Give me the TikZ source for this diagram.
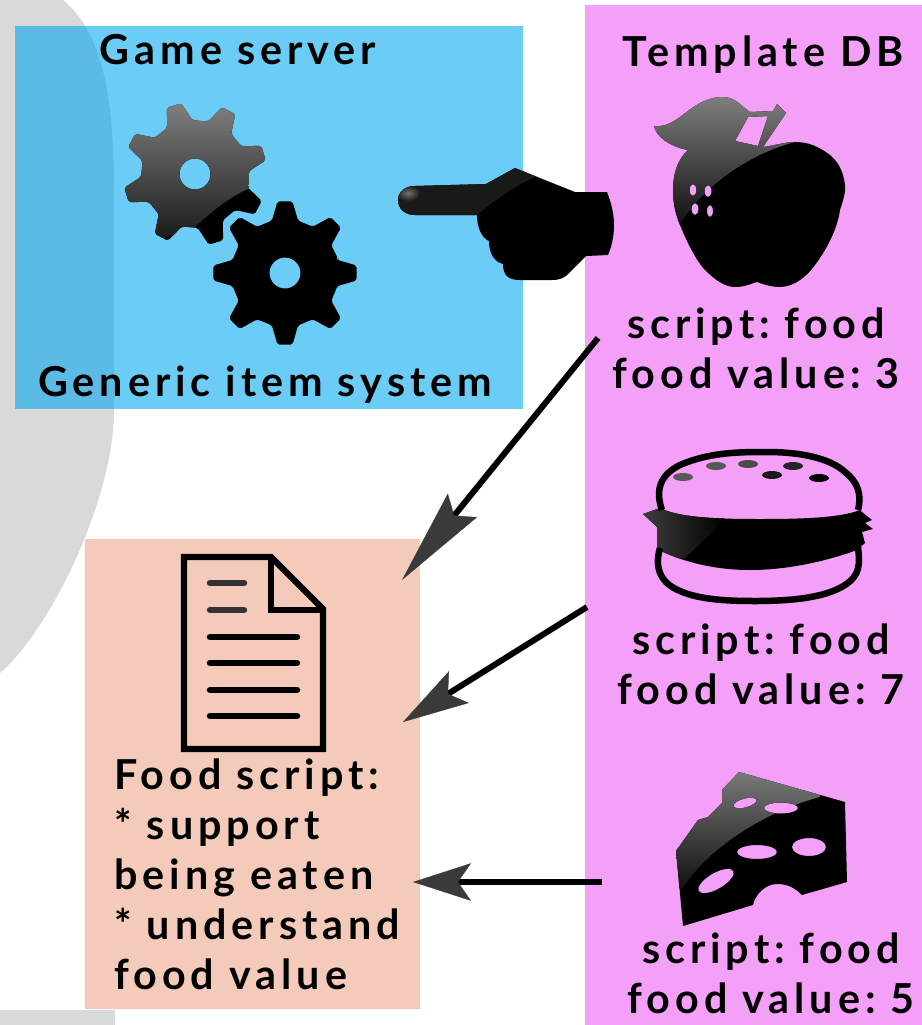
\documentclass[tikz,border=0pt]{standalone}
\usepackage{fontspec}
\setmainfont[LetterSpace=12]{Lato}
\usetikzlibrary{arrows.meta}
\definecolor{serverblue}{HTML}{00A7EE}
\definecolor{dbpink}{HTML}{F5A0F8}
\definecolor{scriptpeach}{HTML}{F4CBBB}
\definecolor{backgray}{HTML}{D9D9D9}
\definecolor{tipgray}{HTML}{3A3A3A}
\def\cogpath#1{(#1-15:55) \foreach \a in {0,45,...,315} {
  -- ({\a+#1-14}:54) -- ({\a+#1-6}:72) -- ({\a+#1+6}:72) -- ({\a+#1+14}:54) } -- cycle (0,0) circle (15.5)}
\def\handpath{(415,186) -- (486,184) -- (515,168) -- (575,192) -- (607,192)
  .. controls (612,205) and (614,215) .. (614,225) .. controls (614,238) and (611,248) .. (608,255)
  -- (586,256) -- (570,272) .. controls (565,278) and (560,280) .. (552,280) -- (520,280)
  .. controls (508,280) and (503,275) .. (503,264) -- (498,262) .. controls (492,258) and (489,250) .. (489,241)
  .. controls (482,238) and (477,228) .. (477,215) -- (415,215)
  .. controls (405,215) and (398,209) .. (398,200) .. controls (398,192) and (405,186) .. (415,186) -- cycle}
\def\applepath{(688,150) .. controls (677,160) and (673,175) .. (673,190)
  .. controls (673,205) and (676,215) .. (680,225) .. controls (688,245) and (698,263) .. (705,270)
  .. controls (715,280) and (725,287) .. (735,287) .. controls (745,287) and (750,284) .. (757,282)
  .. controls (765,285) and (772,287) .. (780,287) .. controls (795,287) and (808,275) .. (815,265)
  .. controls (830,245) and (838,225) .. (840,210) .. controls (844,198) and (846,190) .. (845,185)
  .. controls (843,170) and (838,162) .. (830,155) .. controls (818,146) and (808,142) .. (795,142)
  .. controls (785,142) and (772,146) .. (763,147) -- (786,113) -- (777,104) -- (773,111) -- (750,112)
  .. controls (743,108) and (736,97) .. (723,97) .. controls (703,97) and (690,110) .. (680,117)
  .. controls (672,123) and (664,127) .. (654,126) .. controls (656,136) and (668,146) .. (688,150) -- cycle
  (748,117) -- (768,116) -- (758,146) -- (735,141) -- cycle
  (693,190) ellipse [x radius=3.5,y radius=6] (708,191) ellipse [x radius=3.5,y radius=6]
  (695,209) ellipse [x radius=3.5,y radius=6] (710,211) ellipse [x radius=3,y radius=6]}
\def\pattypath{(643,514) -- (660,508) .. controls (680,518) and (720,519) .. (760,519)
  .. controls (800,519) and (840,518) .. (860,510) -- (862,512) -- (872,520) -- (865,523) -- (873,529) -- (862,532)
  -- (865,543) -- (857,550)
  .. controls (830,560) and (790,570) .. (750,570) .. controls (715,570) and (685,562) .. (663,552)
  -- (657,547) -- (657,527) -- cycle}
\def\cheesepath{(739,772) -- (845,802) -- (847,882) -- (802,895) .. controls (795,888) and (788,884) .. (777,884)
  .. controls (765,884) and (755,895) .. (753,905) -- (683,926) -- (676,851) -- (698,820) -- (708,817)
  -- (722,803) -- (722,790) -- cycle
  (745,803) ellipse [x radius=12,y radius=4.5,rotate=15]
  (781,808) ellipse [x radius=17,y radius=5.5]
  (757,852) ellipse [x radius=20,y radius=7]
  (809,847) ellipse [x radius=17,y radius=9]
  (716,881) ellipse [x radius=20,y radius=8,rotate=30]}
\begin{document}
\begin{tikzpicture}[x=0.02cm,y=-0.02cm,
    glossy/.style={top color=black!50!white,middle color=black!86!white,bottom color=black!94!white},
    itemtext/.style={font=\frenchspacing\bfseries\fontsize{23.5}{28.5}\selectfont,inner sep=0pt,align=center},
    feeding/.style={draw=black,line width=0.12cm,
      -{Stealth[length=#1,width=0.75cm,inset=0.26cm,fill=tipgray,color=tipgray,line width=0.2pt]}},
    docline/.style={line width=0.13cm,line cap=round}]
  \useasboundingbox (0,0) rectangle (922,1025);
  \fill[backgray] (0,0) -- (63,0) .. controls (100,30) and (114,90) .. (114,190) -- (114,410)
    .. controls (114,500) and (50,630) .. (0,673) -- cycle;
  \fill[backgray] (0,1010) rectangle (115,1025);
  \fill[serverblue,fill opacity=0.58] (15,26) rectangle (523,409);
  \fill[dbpink] (585,5) rectangle (922,1025);
  \fill[scriptpeach] (85,539) rectangle (420,1009);

  \node[itemtext,anchor=base] (gameserver) at (238,64) {Game server};
  \node[itemtext,anchor=base] (itemsystem) at (265,396) {Generic item system};
  \node[itemtext,anchor=base] (templatedb) at (763,66) {Template DB};
  \node[itemtext,anchor=center] (applescript) at (756,348) {script: food\\food value: 3};
  \node[itemtext,anchor=center] (burgerscript) at (761,664) {script: food\\food value: 7};
  \node[itemtext,anchor=center] (cheesescript) at (771,973) {script: food\\food value: 5};
  \node[itemtext,align=left,anchor=north west] (foodscript) at (114,758)
    {Food script:\\* support\\being eaten\\* understand\\food value};

  % gears
  \begin{scope}[shift={(195,174)},even odd rule,rounded corners=0.04cm]
    \fill[black] \cogpath{28};
    \clip \cogpath{28};
    \shade[sharp corners,glossy] (-75,-72) -- (75,-72) -- (75,0) -- (55,14) .. controls (30,25) and (15,40) .. (0,53) -- (-75,80) -- cycle;
  \end{scope}
  \fill[black,even odd rule,rounded corners=0.04cm,shift={(285,273)}] \cogpath{0};

  % hand
  \fill[black] \handpath;
  \begin{scope}
    \clip \handpath;
    \fill[black!90!white] (390,160) -- (545,160) -- (538,176) .. controls (515,185) and (495,200) .. (477,215) -- (390,220) -- cycle;
    \shade[inner color=black!55!white,outer color=black!90!white] (408,193) ellipse [x radius=12,y radius=8];
  \end{scope}

  % apple
  \fill[black,even odd rule] \applepath;
  \begin{scope}[even odd rule]
    \clip \applepath;
    \shade[glossy] (650,95) -- (790,95) -- (795,142) .. controls (745,155) and (700,190) .. (679,226) -- (650,226) -- cycle;
  \end{scope}

  % burger
  \fill[black] \pattypath;
  \begin{scope}
    \clip \pattypath;
    \shade[left color=black!75!white,right color=black] (640,505) -- (725,505) -- (725,520) -- (685,558) -- (640,562) -- cycle;
  \end{scope}
  \draw[black,line width=0.13cm,line join=round] (662,510) .. controls (655,490) and (660,475) .. (680,465)
    .. controls (710,452) and (740,452) .. (767,452) .. controls (800,452) and (830,458) .. (845,472)
    .. controls (858,482) and (862,495) .. (858,510);
  \draw[black,line width=0.13cm] (660,548) .. controls (655,565) and (658,582) .. (680,591)
    .. controls (700,600) and (730,601) .. (755,601) .. controls (790,601) and (825,598) .. (845,585)
    .. controls (860,575) and (860,565) .. (858,547);
  \fill[black!65!white] (683,477) ellipse [x radius=10,y radius=4];
  \fill[black!65!white] (716,466) ellipse [x radius=10,y radius=4];
  \fill[black!70!white] (748,464) ellipse [x radius=10,y radius=4];
  \fill[black!90!white] (772,475) ellipse [x radius=10,y radius=4];
  \fill[black!85!white] (793,466) ellipse [x radius=10,y radius=4];
  \fill[black] (819,478) ellipse [x radius=10,y radius=4];

  % cheese
  \fill[black,even odd rule] \cheesepath;
  \begin{scope}[even odd rule]
    \clip \cheesepath;
    \shade[glossy] (670,765) -- (825,765) -- (820,797) .. controls (770,810) and (710,845) .. (683,888) -- (670,890) -- cycle;
  \end{scope}

  % document
  \draw[black,line width=0.125cm,line join=miter] (184,557) -- (271,557) -- (323,609) -- (323,749) -- (184,749) -- cycle;
  \draw[black,line width=0.125cm] (271,557) -- (271,610) -- (323,610);
  \draw[docline,black!80!white] (210,583) -- (244,583);
  \draw[docline,black!80!white] (210,610) -- (244,610);
  \draw[docline] (210,637) -- (297,637);
  \draw[docline] (210,663) -- (297,663);
  \draw[docline] (210,690) -- (297,690);
  \draw[docline] (210,716) -- (297,716);

  % arrows
  \coordinate (applefrom) at (598,338);
  \coordinate (appleto) at (402,580);
  \coordinate (burgerfrom) at (587,607);
  \coordinate (burgerto) at (403,722);
  \coordinate (cheesefrom) at (602,882);
  \coordinate (cheeseto) at (413,882);
  \draw[feeding=1.92cm] (applefrom) -- (appleto);
  \draw[feeding=1.32cm] (burgerfrom) -- (burgerto);
  \draw[feeding=1.16cm] (cheesefrom) -- (cheeseto);
\end{tikzpicture}
\end{document}
